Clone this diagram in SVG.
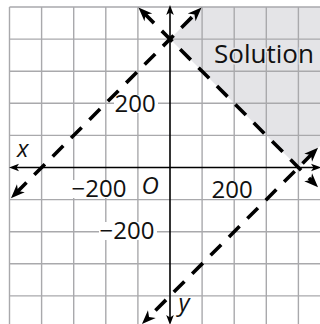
<svg xmlns="http://www.w3.org/2000/svg" width="320" height="324" viewBox="0 0 320 324">
  <style>
    .grid line { stroke: #a9a9ac; stroke-width: 1.4; }
    .axis { stroke: #000; stroke-width: 1.6; fill: none; marker-start: url(#ax); marker-end: url(#ax); }
    .dash { stroke: #000; stroke-width: 3.6; fill: none; stroke-dasharray: 15 11; marker-start: url(#dh); marker-end: url(#dh); }
    .lbl { font-family: "Open Sans", "Noto Sans", "DejaVu Sans", sans-serif; font-size: 24px; fill: #111; }
    .it { font-style: italic; }
    .bg { fill: #fff; }
  </style>
  <defs>
    <marker id="dh" viewBox="-8 -7 16 14" markerWidth="16" markerHeight="14" refX="0" refY="0" orient="auto-start-reverse" markerUnits="userSpaceOnUse">
      <path d="M7,0 L-7,-5.5 L-3,0 L-7,5.5 Z" fill="#000"/>
    </marker>
    <marker id="ax" viewBox="-6 -5 12 10" markerWidth="12" markerHeight="10" refX="0" refY="0" orient="auto-start-reverse" markerUnits="userSpaceOnUse">
      <path d="M5,0 L-5,-3.8 L-2.5,0 L-5,3.8 Z" fill="#000"/>
    </marker>
  </defs>

  <g id="shading">
    <polygon points="170,39.1 202.1,7 320,7 320,145.9 298.4,167.5" fill="#e4e4e7"/>
  </g>

  <g id="grid" class="grid">
    <line x1="9.5" y1="7" x2="9.5" y2="324"/>
    <line x1="41.6" y1="7" x2="41.6" y2="324"/>
    <line x1="73.7" y1="7" x2="73.7" y2="324"/>
    <line x1="105.8" y1="7" x2="105.8" y2="324"/>
    <line x1="137.9" y1="7" x2="137.9" y2="324"/>
    <line x1="202.1" y1="7" x2="202.1" y2="324"/>
    <line x1="234.2" y1="7" x2="234.2" y2="324"/>
    <line x1="266.3" y1="7" x2="266.3" y2="324"/>
    <line x1="298.4" y1="7" x2="298.4" y2="324"/>
    <line x1="9.5" y1="7" x2="320" y2="7"/>
    <line x1="9.5" y1="39.1" x2="320" y2="39.1"/>
    <line x1="9.5" y1="71.2" x2="320" y2="71.2"/>
    <line x1="9.5" y1="103.3" x2="320" y2="103.3"/>
    <line x1="9.5" y1="135.4" x2="320" y2="135.4"/>
    <line x1="9.5" y1="199.6" x2="320" y2="199.6"/>
    <line x1="9.5" y1="231.7" x2="320" y2="231.7"/>
    <line x1="9.5" y1="263.8" x2="320" y2="263.8"/>
    <line x1="9.5" y1="295.9" x2="320" y2="295.9"/>
  </g>

  <g id="labels">
    <g id="label-200-y">
      <rect class="bg" x="114" y="95" width="44" height="18"/>
      <text class="lbl" x="114.5" y="112">200</text>
    </g>
    <g id="label-m200-x">
      <rect class="bg" x="71" y="180" width="57" height="18"/>
      <text class="lbl" x="71.5" y="197">−200</text>
    </g>
    <g id="label-200-x">
      <rect class="bg" x="211" y="181" width="45" height="18"/>
      <text class="lbl" x="211.5" y="198">200</text>
    </g>
    <g id="label-m200-y">
      <rect class="bg" x="99" y="222" width="58" height="18"/>
      <text class="lbl" x="99.5" y="239">−200</text>
    </g>
    <g id="label-O">
      <text class="lbl it" x="141.5" y="193.5">O</text>
    </g>
    <g id="label-x">
      <text class="lbl it" x="17" y="156.5">x</text>
    </g>
    <g id="label-y">
      <text class="lbl it" x="178.5" y="311">y</text>
    </g>
    <g id="label-solution">
      <text class="lbl" x="214" y="63" font-size="26" style="font-size:26px" stroke="#e4e4e7" stroke-width="3" paint-order="stroke">Solution</text>
    </g>
  </g>

  <g id="connectors">
    <path id="x-axis" class="axis" d="M14,167.5 H316"/>
    <path id="y-axis" class="axis" d="M170,10 V320"/>
    <path id="line-a" class="dash" d="M15.9,193.2 L196.6,12.5"/>
    <path id="line-b" class="dash" d="M143.4,12.5 L313.1,182.2"/>
    <path id="line-c" class="dash" d="M313.1,152.8 L146.9,319"/>
  </g>
</svg>
